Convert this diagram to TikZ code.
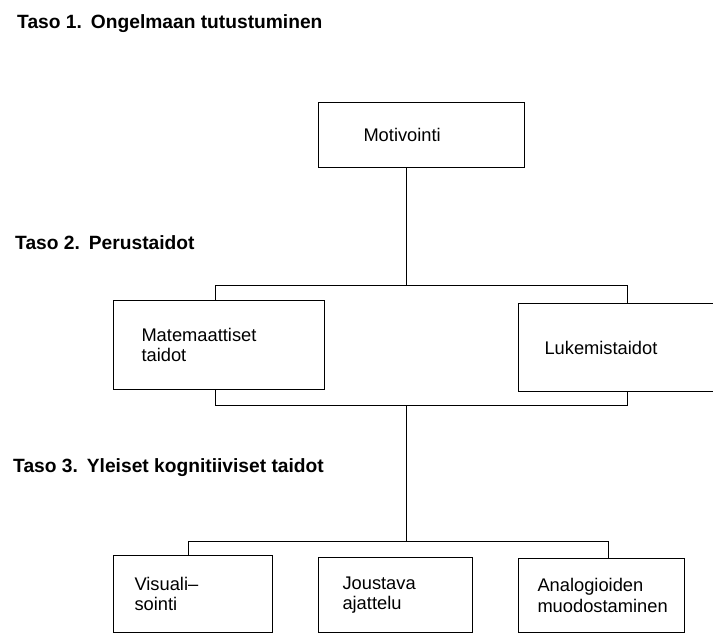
\documentclass[tikz,border=0pt]{standalone}
\usepackage{fontspec}
\setmainfont{Liberation Sans}
\begin{document}
\begin{tikzpicture}[x=1pt,y=-1pt,
  box/.style={draw, fill=white, line width=1pt, anchor=north west, align=left,
    inner ysep=0pt, font=\fontsize{18.3}{20.5}\selectfont},
  bracketbox/.style={draw, line width=1pt, anchor=north west, inner sep=0pt},
  link/.style={line width=1pt},
  title/.style={anchor=base west, inner sep=0pt, font=\fontsize{19.2}{22}\selectfont\bfseries}]
\useasboundingbox (0,0) rectangle (713,634);
\node[title] (t1) at (17,29) {Taso 1.\hspace{9pt}Ongelmaan tutustuminen};
\node[title] (t2) at (15,249) {Taso 2.\hspace{9pt}Perustaidot};
\node[title] (t3) at (13,472) {Taso 3.\hspace{9pt}Yleiset kognitiiviset taidot};

\coordinate (spine) at (406,0);
\coordinate (barL) at (188,541);
\coordinate (barR) at (608,541);

\node[box, text width=116pt, inner xsep=45pt, minimum height=65pt] (mot) at (318,102) {Motivointi};
\node[bracketbox, minimum width=412pt, minimum height=120pt] (br2) at (215,285) {};
\node[box, text width=155pt, inner xsep=28pt, minimum height=89pt] (mat) at (113,300) {Matemaattiset\\taidot};
\node[box, text width=150pt, inner xsep=26pt, minimum height=88pt] (luk) at (518,303) {Lukemistaidot};

\node[box, text width=117pt, inner xsep=21pt, minimum height=77pt] (vis) at (113,555) {Visuali–\\sointi};
\node[box, text width=106pt, inner xsep=24pt, minimum height=75pt] (jou) at (318,557) {Joustava\\ajattelu};
\node[box, text width=128pt, inner xsep=19pt, minimum height=74pt] (ana) at (518,558) {Analogioiden\\muodostaminen};

\draw[link] (mot.south -| spine) -- (br2.north -| spine);
\draw[link] (br2.south -| spine) -- (spine |- barL);
\draw[link] (vis.north -| barL) -- (barL) -- (barR) -- (ana.north -| barR);
\end{tikzpicture}
\end{document}
